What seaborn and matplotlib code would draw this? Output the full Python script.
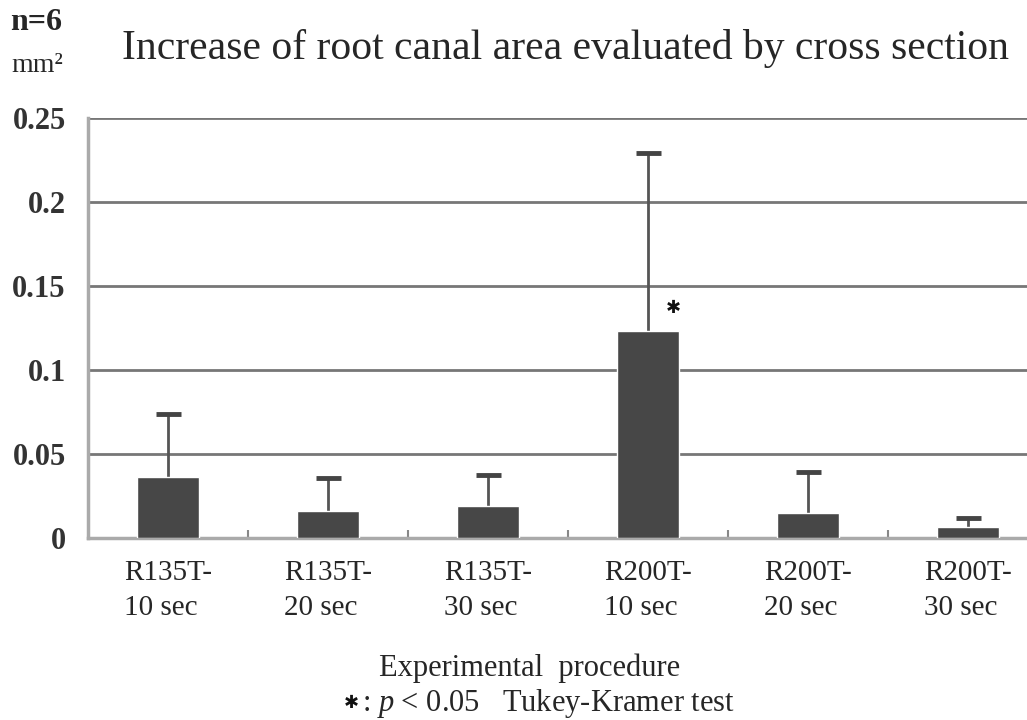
import matplotlib.pyplot as plt
import seaborn as sns
import numpy as np

# data
groups = ['R135T-\n10 sec', 'R135T-\n20 sec', 'R135T-\n30 sec',
          'R200T-\n10 sec', 'R200T-\n20 sec', 'R200T-\n30 sec']
means = [0.0363, 0.0160, 0.0190, 0.1230, 0.0150, 0.0065]
sds = [0.0375, 0.0200, 0.0185, 0.1060, 0.0240, 0.0055]
yticks = [0, 0.05, 0.1, 0.15, 0.2, 0.25]
ytick_labels = ['0', '0.05', '0.1', '0.15', '0.2', '0.25']

sns.set_style('white')
plt.rcParams['font.family'] = ['Liberation Serif', 'DejaVu Serif', 'DejaVu Sans']
plt.rcParams['mathtext.fontset'] = 'custom'
plt.rcParams['mathtext.rm'] = 'Liberation Serif'
plt.rcParams['mathtext.it'] = 'Liberation Serif:italic'

txt = '#262626'
fig = plt.figure(figsize=(10.27, 7.2), dpi=100)
ax = fig.add_axes([88 / 1027, 1 - 538 / 720, 1 - 88 / 1027, (538 - 118) / 720])

sns.barplot(x=groups, y=means, color='#474747', width=0.39, errorbar=None,
            saturation=1, ax=ax, zorder=3)

# one-sided error bars (upper only)
x = np.arange(len(groups))
tops = np.array(means) + np.array(sds)
ax.errorbar(x, means, yerr=[np.zeros(len(sds)), sds], fmt='none',
            ecolor='#555555', elinewidth=2, capsize=0, zorder=2)
ax.plot(x, tops, ls='none', marker='_', ms=18, mew=3.5, color='#444444', zorder=2)

ax.set_ylim(0, 0.25)
ax.set_xlim(-0.5, 5.37)
ax.set_yticks(yticks)
ax.set_yticklabels(ytick_labels, fontsize=22, fontweight='bold', color='#333333')
ax.set_xticks(x, groups, linespacing=1.45, multialignment='left')
ax.tick_params(axis='x', labelsize=21, length=0, pad=16, colors=txt)
ax.tick_params(axis='y', length=0, pad=16)
ax.set_xticks(np.arange(len(groups) - 1) + 0.5, minor=True)
ax.tick_params(axis='x', which='minor', bottom=True, direction='in', length=6,
               width=1.5, color='#888888')
ax.yaxis.grid(True, color='#777777', linewidth=2)
ax.set_axisbelow(True)

for s in ['top', 'right']:
    ax.spines[s].set_visible(False)
ax.spines['left'].set_color('#aaaaaa')
ax.spines['left'].set_linewidth(2.5)
ax.spines['bottom'].set_color('#aaaaaa')
ax.spines['bottom'].set_linewidth(2.5)

# significance mark
ax.text(3.16, 0.137, '\u2731', ha='center', va='center', fontsize=13,
        family=['DejaVu Sans'], color='#111111')

fig.text(565 / 1027, 1 - 48 / 720, 'Increase of root canal area evaluated by cross section',
         ha='center', va='center', fontsize=30, color=txt)
fig.text(10 / 1027, 1 - 22 / 720, 'n=6', ha='left', va='center', fontsize=23,
         fontweight='bold', color=txt)
fig.text(11 / 1027, 1 - 66 / 720, 'mm\u00b2', ha='left', va='center', fontsize=20,
         color=txt)
fig.text(530 / 1027, 1 - 668 / 720, 'Experimental  procedure', ha='center', va='center',
         fontsize=22, color=txt)
fig.text(351 / 1027, 1 - 703 / 720, '\u2731', ha='center', va='center', fontsize=13,
         family=['DejaVu Sans'], color='#111111')
fig.text(362 / 1027, 1 - 703 / 720, ': $\\it{p}$ < 0.05   Tukey-Kramer test',
         ha='left', va='center', fontsize=22, color=txt)

plt.savefig('out.png', dpi=100)
